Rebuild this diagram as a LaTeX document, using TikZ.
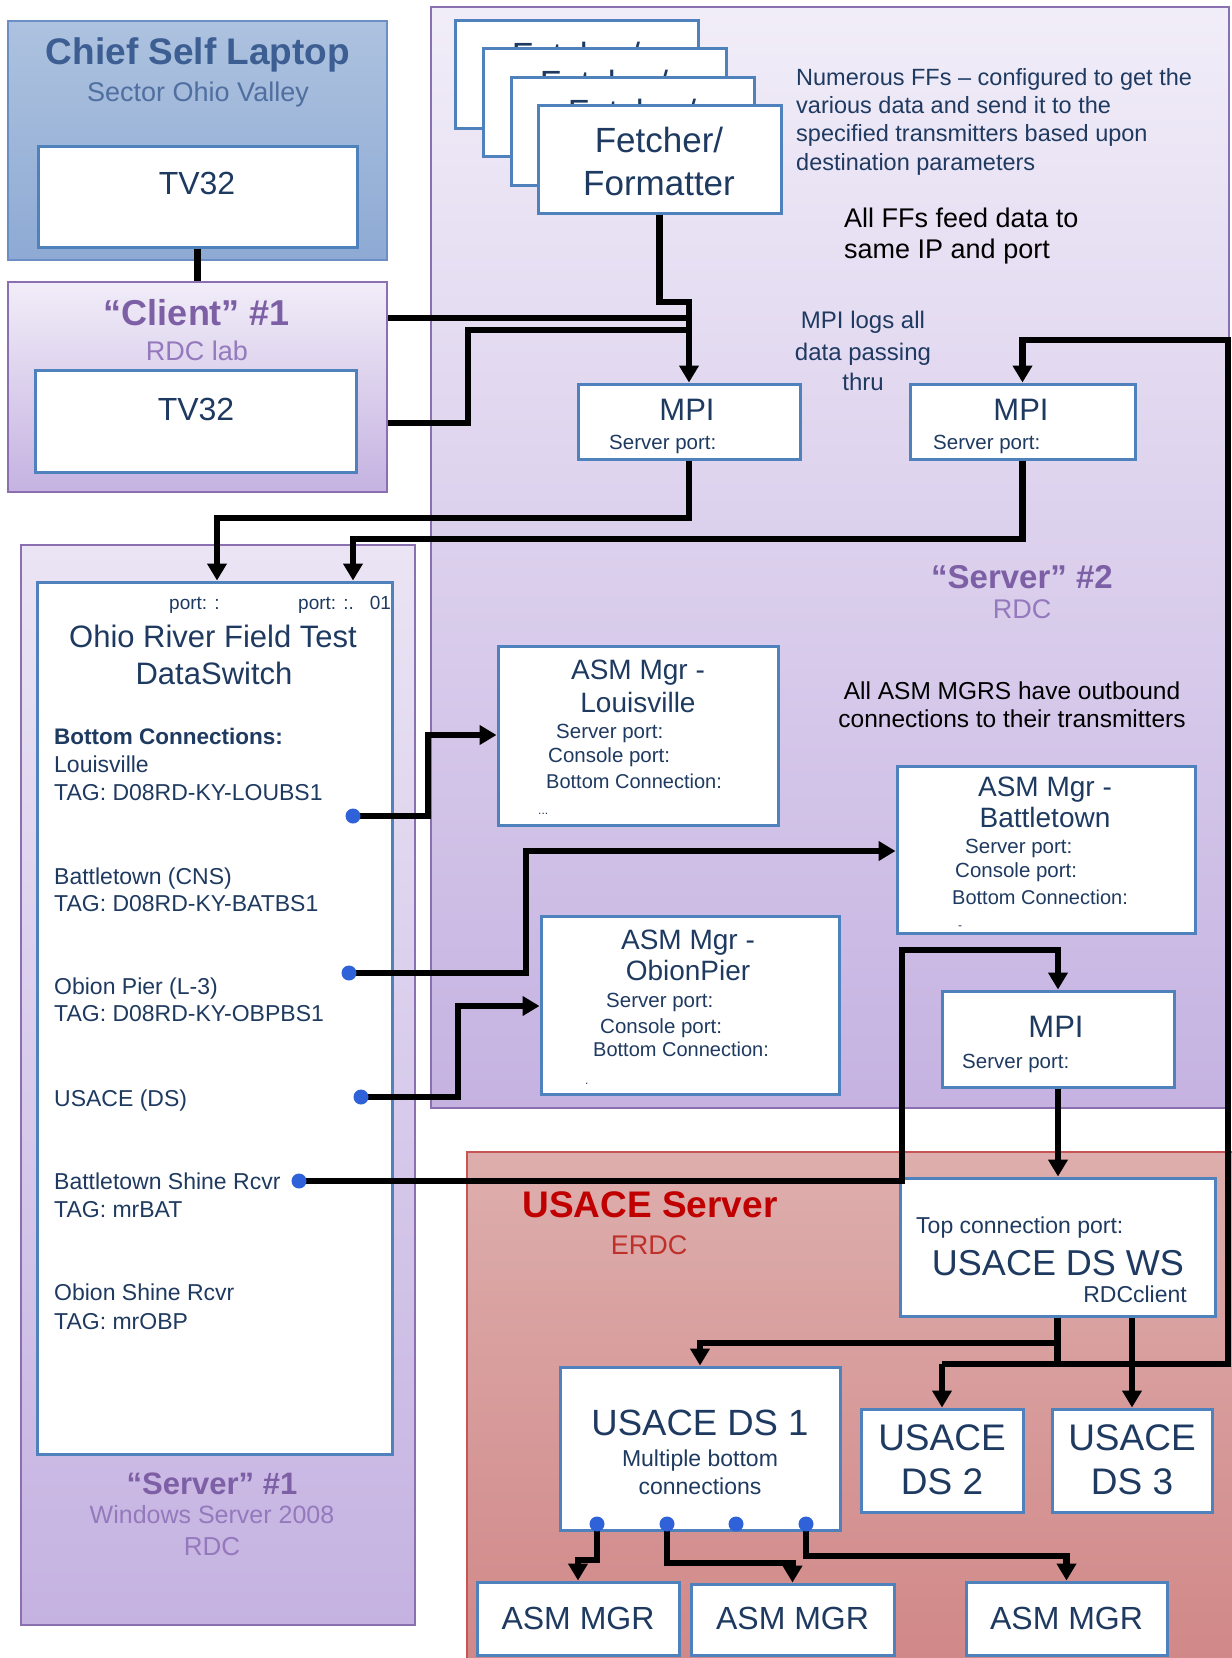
\documentclass[tikz,border=0pt]{standalone}
\usepackage{fontspec}
\setmainfont{Liberation Sans}
\usetikzlibrary{arrows.meta,fit}
\definecolor{boxblue}{HTML}{4F81BD}
\definecolor{navy}{HTML}{1F3A60}
\definecolor{chiefTop}{HTML}{ADC2DF}
\definecolor{chiefBot}{HTML}{8EAAD4}
\definecolor{chiefLine}{HTML}{6A8EC5}
\definecolor{chiefTitle}{HTML}{3C5E92}
\definecolor{chiefSub}{HTML}{4F6FA0}
\definecolor{lavTop}{HTML}{F1EDF8}
\definecolor{lavBot}{HTML}{C5B2E1}
\definecolor{lavLine}{HTML}{8B70B1}
\definecolor{purTitle}{HTML}{7D5FA5}
\definecolor{purSub}{HTML}{9479BC}
\definecolor{redTop}{HTML}{DDAEAD}
\definecolor{redBot}{HTML}{D18787}
\definecolor{redLine}{HTML}{C65656}
\definecolor{redTitle}{HTML}{C00000}
\definecolor{redSub}{HTML}{C0302B}
\definecolor{dotblue}{HTML}{2F62D8}
\newcommand\fsz[1]{\fontsize{#1pt}{#1pt}\selectfont}

\begin{document}
\begin{tikzpicture}[x=1pt,y=-1pt,
  zone/.style={inner sep=0pt, line width=1.6pt},
  lav/.style={zone, draw=lavLine, top color=lavTop, bottom color=lavBot},
  inbox/.style={draw=boxblue, line width=3pt, fill=white, inner sep=0pt},
  txt/.style={inner sep=0pt, anchor=base, text=navy},
  txtl/.style={txt, anchor=base west},
  txtr/.style={txt, anchor=base east},
  wire/.style={line width=6.5pt, black},
  arr/.style={wire, -{Triangle[length=17pt,width=19pt]}},
  port/.style={circle, fill=dotblue, inner sep=0pt, minimum size=15pt},
]
\useasboundingbox (0,0) rectangle (1232,1658);
\fill[white] (0,0) rectangle (1232,1658);

% ---------- machines ----------
\node[zone, draw=chiefLine, top color=chiefTop, bottom color=chiefBot, fit={(8,21) (387,260)}] (chief) {};
\node[lav, fit={(8,282) (387,492)}] (client) {};
\node[lav, fit={(431,7) (1229,1108)}] (server2) {};
\node[lav, top color=lavTop!85!lavBot, fit={(21,545) (415,1625)}] (server1) {};
\node[zone, draw=redLine, top color=redTop, bottom color=redBot, fit={(467,1152) (1240,1670)}] (usace) {};

% ---------- machine labels ----------
\node[txt, text=chiefTitle, font=\bfseries\fsz{37}] (chiefT) at (198,64) {Chief Self Laptop};
\node[txt, text=chiefSub, font=\fsz{27}] (chiefS) at (198,101) {Sector Ohio Valley};
\node[txt, text=purTitle, font=\bfseries\fsz{36}] (clientT) at (197,325) {“Client” \#1};
\node[txt, text=purSub, font=\fsz{27}] (clientS) at (197,360) {RDC lab};
\node[txt, text=purTitle, font=\bfseries\fsz{33}] (server2T) at (1022,588) {“Server” \#2};
\node[txt, text=purSub, font=\fsz{27}] (server2S) at (1022,618) {RDC};
\node[txt, text=purTitle, font=\bfseries\fsz{31}] (server1T) at (212,1494) {“Server” \#1};
\node[txt, text=purSub, font=\fsz{25}] (server1S) at (212,1523) {Windows Server 2008};
\node[txt, text=purSub, font=\fsz{26}] (server1R) at (212,1555) {RDC};
\node[txt, text=redTitle, font=\bfseries\fsz{37}] (usaceT) at (650,1217) {USACE Server};
\node[txt, text=redSub, font=\fsz{27}] (usaceS) at (649,1254) {ERDC};

% ---------- TV32 clients ----------
\node[inbox, fit={(38,146) (357,247)}] (tvA) {};
\node[txt, font=\fsz{32}] (tvAT) at (197,194.5) {TV32};
\node[inbox, fit={(35,370) (356,472)}] (tvB) {};
\node[txt, font=\fsz{32}] (tvBT) at (196,420.5) {TV32};

% ---------- stacked fetcher/formatters (only the top of each back label shows) ----------
\foreach \n/\x/\y in {1/455/20, 2/483/48, 3/511/77}{
  \node[inbox, fit={(\x,\y) (\x+243,\y+108)}] (fetch\n) {};
  \node[txt, font=\fsz{35}] (fetch\n a) at (\x+121,\y+47.6) {Fetcher/};
}
\node[inbox, fit={(538,105) (781,213)}] (fetch4) {};
\node[txt, font=\fsz{35}] (fetch4a) at (659,152.6) {Fetcher/};
\node[txt, font=\fsz{35}] (fetch4b) at (659,195.6) {Formatter};

% ---------- notes in server 2 ----------
\node[txtl, font=\fsz{23.5}] (noteA1) at (796,85.5) {Numerous FFs – configured to get the};
\node[txtl, font=\fsz{23.5}] (noteA2) at (796,113.5) {various data and send it to the};
\node[txtl, font=\fsz{23.5}] (noteA3) at (796,141.5) {specified transmitters based upon};
\node[txtl, font=\fsz{23.5}] (noteA4) at (796,170.5) {destination parameters};
\node[txtl, text=black, font=\fsz{27}] (noteB1) at (844,227.7) {All FFs feed data to};
\node[txtl, text=black, font=\fsz{27}] (noteB2) at (844,258.7) {same IP and port};
\node[txt, font=\fsz{24}] (noteC1) at (863,328.6) {MPI logs all};
\node[txt, font=\fsz{24}] (noteC2) at (863,360.6) {data passing};
\node[txt, font=\fsz{24}] (noteC3) at (863,390.6) {thru};
\node[txt, text=black, font=\fsz{24.5}] (noteD1) at (1012,699) {All ASM MGRS have outbound};
\node[txt, text=black, font=\fsz{24.5}] (noteD2) at (1012,727) {connections to their transmitters};

% ---------- MPI loggers ----------
\node[inbox, fit={(578,384) (800,459)}] (mpi1) {};
\node[txt, font=\fsz{31}] (mpi1T) at (687,420) {MPI};
\node[txtl, font=\fsz{20.5}] (mpi1P) at (609,449.4) {Server port:};
\node[inbox, fit={(910,384) (1135,459)}] (mpi2) {};
\node[txt, font=\fsz{31}] (mpi2T) at (1021,420) {MPI};
\node[txtl, font=\fsz{20.5}] (mpi2P) at (933,449.4) {Server port:};
\node[inbox, fit={(942,991) (1174,1087)}] (mpi3) {};
\node[txt, font=\fsz{31}] (mpi3T) at (1056,1037) {MPI};
\node[txtl, font=\fsz{20.5}] (mpi3P) at (962,1068) {Server port:};

% ---------- data switch ----------
\node[inbox, fit={(37,582) (392,1454)}] (dswitch) {};
\node[txtl, font=\fsz{19}] (dsP1) at (169,609) {port: :};
\node[txtl, font=\fsz{19}] (dsP2) at (298,609) {port: :.\hspace{16pt}01};
\node[txt, font=\fsz{31}] (dsT1) at (213,647) {Ohio River Field Test};
\node[txt, font=\fsz{31}] (dsT2) at (214,684) {DataSwitch};
\node[txtl, font=\bfseries\fsz{22.5}] (dsH) at (54,744) {Bottom Connections:};
\node[txtl, font=\fsz{23}] (dsL1) at (54,772) {Louisville};
\node[txtl, font=\fsz{23}] (dsL2) at (54,800) {TAG: D08RD-KY-LOUBS1};
\node[txtl, font=\fsz{23}] (dsB1) at (54,884) {Battletown (CNS)};
\node[txtl, font=\fsz{23}] (dsB2) at (54,911) {TAG: D08RD-KY-BATBS1};
\node[txtl, font=\fsz{23}] (dsO1) at (54,994) {Obion Pier (L-3)};
\node[txtl, font=\fsz{23}] (dsO2) at (54,1021) {TAG: D08RD-KY-OBPBS1};
\node[txtl, font=\fsz{23}] (dsU1) at (54,1106) {USACE (DS)};
\node[txtl, font=\fsz{23}] (dsS1) at (54,1189) {Battletown Shine Rcvr};
\node[txtl, font=\fsz{23}] (dsS2) at (54,1217) {TAG: mrBAT};
\node[txtl, font=\fsz{23}] (dsR1) at (54,1300) {Obion Shine Rcvr};
\node[txtl, font=\fsz{23}] (dsR2) at (54,1329) {TAG: mrOBP};

% ---------- ASM managers in server 2 ----------
\node[inbox, fit={(498,646) (778,825)}] (asmL) {};
\node[txt, font=\fsz{28}] (asmL1) at (638,679) {ASM Mgr -};
\node[txt, font=\fsz{28}] (asmL2) at (638,712) {Louisville};
\node[txtl, font=\fsz{20.5}] (asmL3) at (556,738.4) {Server port:};
\node[txtl, font=\fsz{20.5}] (asmL4) at (548,762.4) {Console port:};
\node[txtl, font=\fsz{20}] (asmL5) at (546,788) {Bottom Connection:};
\node[txtl, font=\fsz{12}] (asmL6) at (538,814) {...};

\node[inbox, fit={(897,766) (1195,933)}] (asmB) {};
\node[txt, font=\fsz{28}] (asmB1) at (1045,796) {ASM Mgr -};
\node[txt, font=\fsz{28}] (asmB2) at (1045,827) {Battletown};
\node[txtl, font=\fsz{20.5}] (asmB3) at (965,853) {Server port:};
\node[txtl, font=\fsz{20.5}] (asmB4) at (955,877) {Console port:};
\node[txtl, font=\fsz{20}] (asmB5) at (952,904) {Bottom Connection:};
\node[txtl, font=\fsz{12}] (asmB6) at (958,929) {-};

\node[inbox, fit={(541,916) (839,1094)}] (asmO) {};
\node[txt, font=\fsz{28}] (asmO1) at (688,949) {ASM Mgr -};
\node[txt, font=\fsz{28}] (asmO2) at (688,980) {ObionPier};
\node[txtl, font=\fsz{20.5}] (asmO3) at (606,1007) {Server port:};
\node[txtl, font=\fsz{20.5}] (asmO4) at (600,1033) {Console port:};
\node[txtl, font=\fsz{20}] (asmO5) at (593,1056) {Bottom Connection:};
\node[txtl, font=\fsz{12}] (asmO6) at (585,1084) {.};

% ---------- USACE side ----------
\node[inbox, fit={(900,1178) (1215,1316)}] (dsws) {};
\node[txtl, font=\fsz{23}] (dswsP) at (916,1233) {Top connection port:};
\node[txt, font=\fsz{36}] (dswsT) at (1058,1275) {USACE DS WS};
\node[txtr, font=\fsz{23}] (dswsS) at (1187,1302) {RDCclient};

\node[inbox, fit={(560,1367) (840,1530)}] (ds1) {};
\node[txt, font=\fsz{36.5}] (ds1T) at (700,1435) {USACE DS 1};
\node[txt, font=\fsz{23}] (ds1S1) at (700,1466) {Multiple bottom};
\node[txt, font=\fsz{23}] (ds1S2) at (700,1494) {connections};

\node[inbox, fit={(861,1409) (1023,1512)}] (ds2) {};
\node[txt, font=\fsz{37}] (ds2T1) at (942,1450) {USACE};
\node[txt, font=\fsz{37}] (ds2T2) at (942,1494) {DS 2};
\node[inbox, fit={(1052,1409) (1212,1512)}] (ds3) {};
\node[txt, font=\fsz{37}] (ds3T1) at (1132,1450) {USACE};
\node[txt, font=\fsz{37}] (ds3T2) at (1132,1494) {DS 3};

\node[inbox, fit={(477,1582) (679,1655)}] (asm1) {};
\node[txt, font=\fsz{32}] (asm1T) at (578,1629.5) {ASM MGR};
\node[inbox, fit={(691,1584) (894,1655)}] (asm2) {};
\node[txt, font=\fsz{32}] (asm2T) at (792.5,1629.5) {ASM MGR};
\node[inbox, fit={(966,1582) (1167,1655)}] (asm3) {};
\node[txt, font=\fsz{32}] (asm3T) at (1066.5,1629.5) {ASM MGR};

% ---------- connection points ----------
\coordinate (pL) at (353,816);
\coordinate (pB) at (349,973);
\coordinate (pO) at (361,1097);
\coordinate (pS) at (299,1181);
\coordinate (q1) at (597,1524);
\coordinate (q2) at (667,1524);
\coordinate (q3) at (736,1524);
\coordinate (q4) at (806,1524);

% ---------- connectors ----------
\draw[wire] (tvA.south) -- (tvA.south |- client.north);
\draw[wire] (client.east |- 0,318) -- (689,318);
\draw[wire] (client.east |- 0,423) -- (468,423) -- (468,330) -- (689,330);
\draw[arr] (fetch4.south) -- (fetch4.south |- 0,302) -- (689,302) -- (mpi1.north);
\draw[arr] (mpi1.south) |- (217,518) -- (dswitch.north -| 217,0);
\draw[arr] (mpi2.south) |- (353,539) -- (dswitch.north -| 353,0);
\draw[arr] (pL) -| (428,735) -- (asmL.west |- 0,735);
\draw[arr] (pB) -| (526,851) -- (asmB.west |- 0,851);
\draw[arr] (pO) -| (458,1006) -- (asmO.west |- 0,1006);
\draw[arr] (pS) -| (902,950) -| (mpi3.north);
\draw[arr] (mpi3.south) -- (mpi3.south |- dsws.north);
\draw[arr] (dsws.south) |- (700,1343) -- (ds1.north);
\draw[wire] (dsws.south) -- (dsws.south |- 0,1364);
\draw[arr] (ds2.north |- 0,1364) -- (ds2.north);
\draw[arr] (ds3.north |- dsws.south) -- (ds3.north);
\draw[arr] (ds2.north |- 0,1364) -- (1228,1364) -- (1228,340) -| (mpi2.north);
\draw[arr] (q1) -- (597,1560) -| (asm1.north);
\draw[arr] (q2) -- (667,1563) -| (asm2.north);
\draw[arr] (q4) -- (806,1556) -| (asm3.north);

% ---------- port dots ----------
\foreach \p in {pL,pB,pO,pS,q1,q2,q3,q4}
  \node[port] (dot\p) at (\p) {};
\end{tikzpicture}
\end{document}
